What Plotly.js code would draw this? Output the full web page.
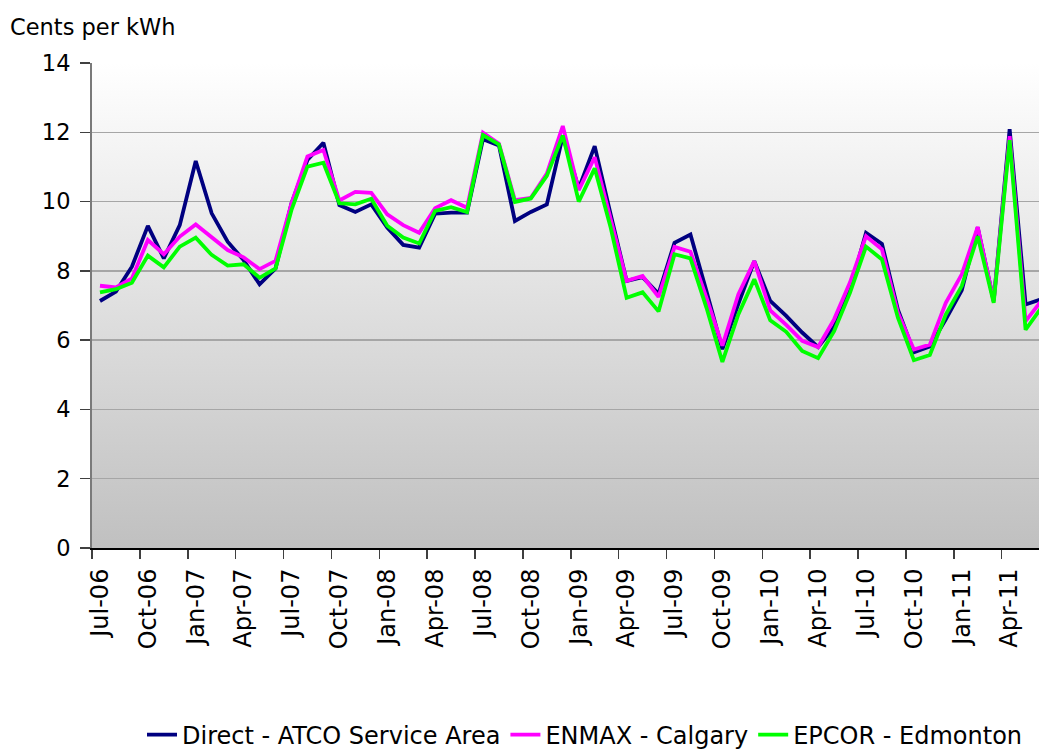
<!DOCTYPE html>
<html>
<head>
<meta charset="utf-8">
<script src="https://cdn.plot.ly/plotly-3.0.1.min.js"></script>
<style>
  html, body { margin: 0; padding: 0; background: #ffffff; overflow: hidden; }
  #wrap { position: relative; width: 1039px; height: 749px; }
  #plotbg { position: absolute; background: linear-gradient(to bottom, #ffffff 0%, #c0c0c0 100%); }
  #chart { position: absolute; left: 0; top: 0; width: 1039px; height: 749px; }
</style>
</head>
<body>
<div id="wrap">
  <div id="plotbg"></div>
  <div id="chart"></div>
</div>
<script>
// Monthly regulated-rate electricity prices, Jul-06 to Jun-11 (cents per kWh)
const months = [
  'Jul-06','Aug-06','Sep-06','Oct-06','Nov-06','Dec-06',
  'Jan-07','Feb-07','Mar-07','Apr-07','May-07','Jun-07',
  'Jul-07','Aug-07','Sep-07','Oct-07','Nov-07','Dec-07',
  'Jan-08','Feb-08','Mar-08','Apr-08','May-08','Jun-08',
  'Jul-08','Aug-08','Sep-08','Oct-08','Nov-08','Dec-08',
  'Jan-09','Feb-09','Mar-09','Apr-09','May-09','Jun-09',
  'Jul-09','Aug-09','Sep-09','Oct-09','Nov-09','Dec-09',
  'Jan-10','Feb-10','Mar-10','Apr-10','May-10','Jun-10',
  'Jul-10','Aug-10','Sep-10','Oct-10','Nov-10','Dec-10',
  'Jan-11','Feb-11','Mar-11','Apr-11','May-11','Jun-11'
];

const tickLabels = [
  'Jul-06','Oct-06','Jan-07','Apr-07','Jul-07','Oct-07','Jan-08',
  'Apr-08','Jul-08','Oct-08','Jan-09','Apr-09','Jul-09','Oct-09',
  'Jan-10','Apr-10','Jul-10','Oct-10','Jan-11','Apr-11'
];

const atcoDirect = [
  7.13, 7.40, 8.12, 9.30, 8.36, 9.32, 11.17, 9.66, 8.84, 8.31, 7.61, 8.07,
  9.95, 11.20, 11.70, 9.90, 9.70, 9.92, 9.25, 8.75, 8.67, 9.65, 9.68, 9.68,
  11.80, 11.62, 9.44, 9.70, 9.92, 11.89, 10.38, 11.60, 9.63, 7.71, 7.82, 7.34,
  8.81, 9.05, 7.42, 5.74, 7.05, 8.28, 7.13, 6.70, 6.22, 5.80, 6.38, 7.46,
  9.10, 8.78, 6.88, 5.65, 5.82, 6.60, 7.44, 9.25, 7.13, 12.09, 7.03, 7.18
];

const enmaxCalgary = [
  7.57, 7.52, 7.78, 8.89, 8.48, 8.99, 9.34, 8.97, 8.60, 8.39, 8.05, 8.29,
  9.95, 11.30, 11.49, 10.03, 10.28, 10.25, 9.63, 9.32, 9.10, 9.81, 10.04, 9.82,
  11.99, 11.67, 10.04, 10.11, 10.81, 12.18, 10.33, 11.28, 9.54, 7.71, 7.85, 7.25,
  8.69, 8.55, 7.23, 5.84, 7.32, 8.28, 6.86, 6.44, 5.98, 5.80, 6.60, 7.67,
  9.00, 8.62, 6.79, 5.73, 5.87, 7.08, 7.90, 9.27, 7.13, 11.89, 6.55, 7.14
];

const epcorEdmonton = [
  7.38, 7.47, 7.66, 8.44, 8.10, 8.70, 8.96, 8.46, 8.15, 8.19, 7.80, 8.07,
  9.76, 11.01, 11.12, 9.95, 9.92, 10.08, 9.30, 8.96, 8.79, 9.73, 9.84, 9.70,
  11.92, 11.65, 9.99, 10.09, 10.74, 11.91, 10.00, 10.96, 9.25, 7.22, 7.38, 6.83,
  8.48, 8.36, 6.94, 5.37, 6.74, 7.76, 6.57, 6.24, 5.69, 5.48, 6.26, 7.37,
  8.70, 8.33, 6.65, 5.42, 5.57, 6.74, 7.56, 9.00, 7.08, 11.77, 6.30, 6.94
];

const seriesNames = ['Direct - ATCO Service Area', 'ENMAX - Calgary', 'EPCOR - Edmonton'];
const seriesColors = ['#000080', '#ff00ff', '#00ff00'];

// months are placed at integer positions; labels sit on month centres,
// tick marks on the boundaries between quarters
const xIdx = months.map((m, i) => i);
const tickVals = tickLabels.map(t => months.indexOf(t));

const traces = [atcoDirect, enmaxCalgary, epcorEdmonton].map((vals, k) => ({
  type: 'scatter',
  mode: 'lines',
  name: seriesNames[k],
  x: xIdx,
  y: vals,
  line: { color: seriesColors[k], width: 3.8 },
  hoverinfo: 'skip'
}));

const FONT = 'DejaVu Sans, Verdana, sans-serif';

const layout = {
  width: 1039,
  height: 749,
  margin: { l: 92, r: 0, t: 63, b: 201, pad: 0 },
  paper_bgcolor: 'rgba(0,0,0,0)',
  plot_bgcolor: 'rgba(0,0,0,0)',
  font: { family: FONT, size: 22, color: '#000000' },
  title: {
    text: 'Cents per kWh',
    xref: 'container', x: 10 / 1039, xanchor: 'left',
    yref: 'container', y: 1 - 27 / 749, yanchor: 'middle',
    font: { family: FONT, size: 22.5, color: '#000000' }
  },
  showlegend: true,
  legend: {
    orientation: 'h',
    xref: 'container', x: 585 / 1039, xanchor: 'center',
    yref: 'container', y: 14 / 749, yanchor: 'middle',
    bgcolor: 'rgba(0,0,0,0)',
    font: { family: FONT, size: 24, color: '#000000' }
  },
  xaxis: {
    range: [-0.5, 58.84],
    tickmode: 'array',
    tickvals: tickVals,
    ticktext: tickLabels,
    tickangle: -90,
    tickfont: { family: FONT, size: 24, color: '#000000' },
    ticks: '',
    ticklabelstandoff: 9,
    showline: true,
    linecolor: '#000000',
    linewidth: 2,
    showgrid: false,
    zeroline: false,
    automargin: false,
    fixedrange: true,
    minor: {
      tick0: -0.5,
      dtick: 3,
      ticks: 'outside',
      ticklen: 9,
      tickwidth: 1.5,
      tickcolor: '#404040',
      showgrid: false
    }
  },
  yaxis: {
    range: [0, 14],
    tick0: 0,
    dtick: 2,
    ticks: 'outside',
    ticklen: 10,
    tickwidth: 1.5,
    tickcolor: '#404040',
    tickfont: { family: FONT, size: 22.5, color: '#000000' },
    ticklabelstandoff: 5,
    showline: true,
    linecolor: '#7a7a7a',
    linewidth: 2,
    showgrid: true,
    gridcolor: '#a6a6a6',
    gridwidth: 1.5,
    zeroline: false,
    automargin: false,
    fixedrange: true
  }
};

Plotly.newPlot('chart', traces, layout, { displayModeBar: false, staticPlot: true }).then(gd => {
  const s = gd._fullLayout._size;
  const bg = document.getElementById('plotbg');
  bg.style.left = s.l + 'px';
  bg.style.top = s.t + 'px';
  bg.style.width = s.w + 'px';
  bg.style.height = s.h + 'px';
});
</script>
</body>
</html>
